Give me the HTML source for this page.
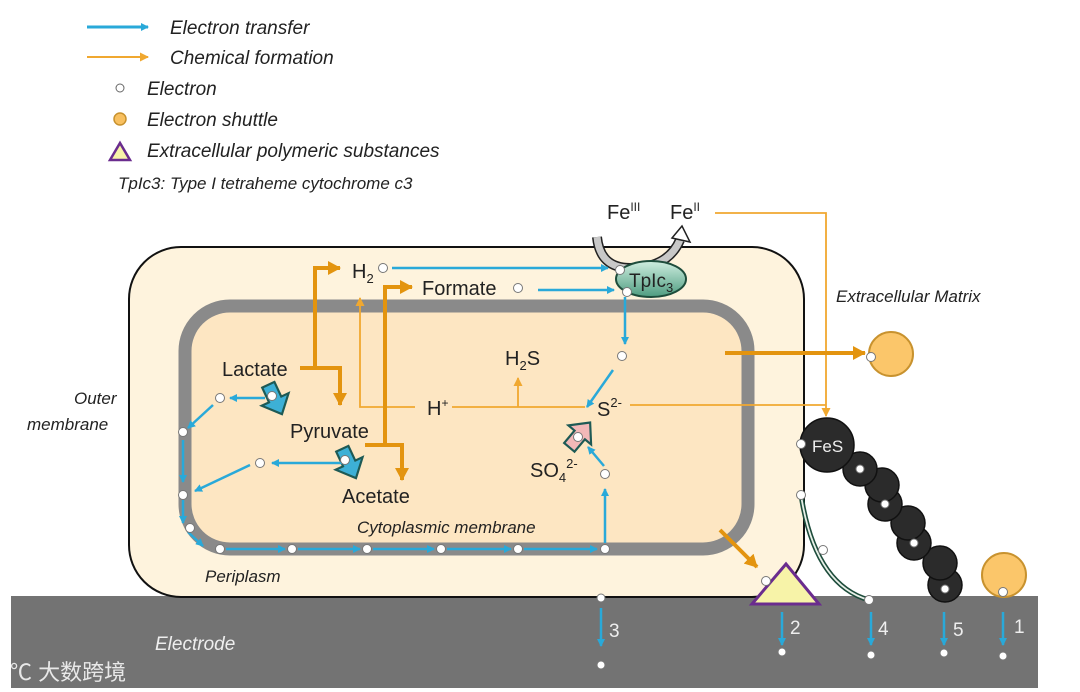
<!DOCTYPE html>
<html><head><meta charset="utf-8"><style>
html,body{margin:0;padding:0;background:#fff;width:1080px;height:692px;overflow:hidden}
svg text{font-family:"Liberation Sans","Noto Sans CJK SC",sans-serif}
.i{font-style:italic}
</style></head><body>
<svg width="1080" height="692" viewBox="0 0 1080 692" xmlns="http://www.w3.org/2000/svg">
<defs>
<marker id="b" markerWidth="8" markerHeight="8" refX="7" refY="4" orient="auto" markerUnits="userSpaceOnUse"><path d="M0,0 L8,4 L0,8z" fill="#29a9d9"/></marker>
<marker id="o" markerWidth="14" markerHeight="14" refX="12" refY="7" orient="auto" markerUnits="userSpaceOnUse"><path d="M0,0 L13,7 L0,14z" fill="#e3940f"/></marker>
<marker id="ot" markerWidth="9" markerHeight="9" refX="8" refY="4.5" orient="auto" markerUnits="userSpaceOnUse"><path d="M0,0 L9,4.5 L0,9z" fill="#f0a830"/></marker>
<linearGradient id="g" x1="0" y1="0" x2="0" y2="1"><stop offset="0" stop-color="#cfeee0"/><stop offset="1" stop-color="#4e9c80"/></linearGradient>
</defs>
<!-- legend -->
<line x1="87" y1="27" x2="148" y2="27" stroke="#29a9d9" stroke-width="3" marker-end="url(#b)"/>
<line x1="87" y1="57" x2="148" y2="57" stroke="#f0a830" stroke-width="2" marker-end="url(#ot)"/>
<circle cx="120" cy="88" r="4" fill="#fff" stroke="#666"/>
<circle cx="120" cy="119" r="6" fill="#f8c060" stroke="#c8922e" stroke-width="1.5"/>
<polygon points="110,160 120,143 130,160" fill="#f7f3a8" stroke="#6a2c8e" stroke-width="2.5"/>
<g class="i" font-size="19" fill="#222">
<text x="170" y="34">Electron transfer</text>
<text x="170" y="64">Chemical formation</text>
<text x="147" y="95">Electron</text>
<text x="147" y="126">Electron shuttle</text>
<text x="147" y="157">Extracellular polymeric substances</text>
<text x="118" y="189" font-size="17">TpIc3: Type I tetraheme cytochrome c3</text>
</g>
<!-- electrode -->
<rect x="11" y="596" width="1027" height="92" fill="#737373"/>
<text x="155" y="650" class="i" font-size="19" fill="#eee">Electrode</text>
<text x="10" y="680" font-size="22" fill="#e8e8e8">℃ 大数跨境</text>
<!-- cell -->
<rect x="129" y="247" width="675" height="350" rx="52" fill="#fef3dd" stroke="#111" stroke-width="2"/>
<rect x="185" y="306" width="563" height="243" rx="45" fill="#fde6c2" stroke="#8a8a8a" stroke-width="13"/>
<!-- chemicals text -->
<g font-size="20" fill="#222">
<text x="352" y="278">H<tspan font-size="13" dy="5">2</tspan></text>
<text x="422" y="295">Formate</text>
<text x="222" y="376">Lactate</text>
<text x="290" y="438">Pyruvate</text>
<text x="342" y="503">Acetate</text>
<text x="427" y="415">H<tspan font-size="12" dy="-8">+</tspan></text>
<text x="505" y="365">H<tspan font-size="13" dy="5">2</tspan><tspan dy="-5">S</tspan></text>
<text x="597" y="416">S<tspan font-size="13" dy="-9">2-</tspan></text>
<text x="530" y="477">SO<tspan font-size="13" dy="5">4</tspan><tspan font-size="13" dy="-14">2-</tspan></text>
<text x="607" y="219">Fe<tspan font-size="12" dy="-8">III</tspan></text>
<text x="670" y="219">Fe<tspan font-size="12" dy="-8">II</tspan></text>
</g>
<g class="i" font-size="17" fill="#222">
<text x="836" y="302">Extracellular Matrix</text>
<text x="74" y="404">Outer</text>
<text x="27" y="430">membrane</text>
<text x="357" y="533">Cytoplasmic membrane</text>
<text x="205" y="582">Periplasm</text>
</g>
<!-- thin orange -->
<g stroke="#f0a830" stroke-width="1.8" fill="none">
<polyline points="415,407 360,407 360,298" marker-end="url(#ot)"/>
<line x1="452" y1="407" x2="585" y2="407"/>
<line x1="518" y1="407" x2="518" y2="378" marker-end="url(#ot)"/>
<line x1="630" y1="405" x2="826" y2="405"/>
<polyline points="715,213 826,213 826,416" marker-end="url(#ot)"/>
</g>
<!-- thick orange -->
<g stroke="#e3940f" stroke-width="4" fill="none">
<polyline points="300,368 340,368 340,405" marker-end="url(#o)"/>
<polyline points="315,368 315,268 340,268" marker-end="url(#o)"/>
<polyline points="365,445 402,445 402,480" marker-end="url(#o)"/>
<polyline points="385,445 385,287 412,287" marker-end="url(#o)"/>
<line x1="725" y1="353" x2="865" y2="353" marker-end="url(#o)"/>
<line x1="720" y1="530" x2="757" y2="567" marker-end="url(#o)"/>
</g>
<!-- block arrows -->
<g transform="translate(274,397) rotate(-25) scale(1.35)"><path d="M-5,-10 L5,-10 L5,2 L11,2 L0,14 L-11,2 L-5,2z" fill="#3db0d6" stroke="#1e5a55" stroke-width="1.6"/></g>
<g transform="translate(348,461) rotate(-25) scale(1.35)"><path d="M-5,-10 L5,-10 L5,2 L11,2 L0,14 L-11,2 L-5,2z" fill="#3db0d6" stroke="#1e5a55" stroke-width="1.6"/></g>
<g transform="translate(578,437) rotate(-140) scale(1.35)"><path d="M-5,-10 L5,-10 L5,2 L11,2 L0,14 L-11,2 L-5,2z" fill="#f2b8b8" stroke="#1e5a55" stroke-width="1.6"/></g>
<!-- Fe U arrow -->
<path d="M597,237 Q600,268 630,268 Q668,268 680,240" fill="none" stroke="#222" stroke-width="10"/>
<path d="M597,237 Q600,268 630,268 Q668,268 680,240" fill="none" stroke="#c8c8c8" stroke-width="7"/>
<polygon points="672,238 682,226 690,242" fill="#fff" stroke="#222" stroke-width="1.5"/>
<ellipse cx="651" cy="279" rx="35" ry="18" fill="url(#g)" stroke="#1e4d3c" stroke-width="2"/>
<text x="629" y="287" font-size="19" fill="#222">TpIc<tspan font-size="13" dy="5">3</tspan></text>
<!-- blue arrows -->
<g stroke="#29a9d9" stroke-width="2.5" fill="none" marker-end="url(#b)">
<line x1="392" y1="268" x2="608" y2="268"/>
<line x1="538" y1="290" x2="614" y2="290"/>
<line x1="625" y1="297" x2="625" y2="344"/>
<line x1="613" y1="370" x2="587" y2="407"/>
<line x1="604" y1="466" x2="588" y2="447"/>
<line x1="605" y1="543" x2="605" y2="489"/>
<line x1="265" y1="398" x2="230" y2="398"/>
<line x1="213" y1="405" x2="188" y2="428"/>
<line x1="183" y1="440" x2="183" y2="482"/>
<line x1="183" y1="500" x2="183" y2="523"/>
<line x1="188" y1="532" x2="203" y2="546"/>
<line x1="250" y1="465" x2="195" y2="491"/>
<line x1="345" y1="463" x2="272" y2="463"/>
<line x1="226" y1="549" x2="285" y2="549"/>
<line x1="298" y1="549" x2="360" y2="549"/>
<line x1="373" y1="549" x2="434" y2="549"/>
<line x1="447" y1="549" x2="511" y2="549"/>
<line x1="524" y1="549" x2="597" y2="549"/>
<line x1="601" y1="608" x2="601" y2="646"/>
<line x1="782" y1="612" x2="782" y2="645"/>
<line x1="871" y1="612" x2="871" y2="645"/>
<line x1="944" y1="612" x2="944" y2="645"/>
<line x1="1003" y1="612" x2="1003" y2="645"/>
</g>
<g font-size="19" fill="#eee">
<text x="609" y="637">3</text><text x="790" y="634">2</text><text x="878" y="635">4</text><text x="953" y="636">5</text><text x="1014" y="633">1</text>
</g>
<!-- right structures -->
<circle cx="891" cy="354" r="22" fill="#fbc66a" stroke="#c8922e" stroke-width="2"/>
<circle cx="1004" cy="575" r="22" fill="#fbc66a" stroke="#c8922e" stroke-width="2"/>
<path d="M801,495 Q815,585 869,600" fill="none" stroke="#1e4d3c" stroke-width="5"/>
<path d="M801,495 Q815,585 869,600" fill="none" stroke="#e8f0e8" stroke-width="1.8"/>
<polygon points="752,604 786,564 819,604" fill="#f7f3a8" stroke="#6a2c8e" stroke-width="3"/>
<g fill="#2b2b2b" stroke="#111" stroke-width="1.5">
<circle cx="945" cy="585" r="17"/><circle cx="940" cy="563" r="17"/><circle cx="914" cy="543" r="17"/><circle cx="908" cy="523" r="17"/><circle cx="885" cy="504" r="17"/><circle cx="882" cy="485" r="17"/><circle cx="860" cy="469" r="17"/>
<circle cx="827" cy="445" r="27"/>
</g>
<text x="812" y="452" font-size="17" fill="#eee">FeS</text>
<!-- electrons -->
<g fill="#fff" stroke="#777" stroke-width="1">
<circle cx="383" cy="268" r="4.5"/><circle cx="518" cy="288" r="4.5"/><circle cx="620" cy="270" r="4.5"/><circle cx="627" cy="292" r="4.5"/><circle cx="622" cy="356" r="4.5"/><circle cx="605" cy="474" r="4.5"/><circle cx="578" cy="437" r="4.5"/>
<circle cx="220" cy="398" r="4.5"/><circle cx="272" cy="396" r="4.5"/><circle cx="260" cy="463" r="4.5"/><circle cx="345" cy="460" r="4.5"/>
<circle cx="183" cy="432" r="4.5"/><circle cx="183" cy="495" r="4.5"/><circle cx="190" cy="528" r="4.5"/>
<circle cx="220" cy="549" r="4.5"/><circle cx="292" cy="549" r="4.5"/><circle cx="367" cy="549" r="4.5"/><circle cx="441" cy="549" r="4.5"/><circle cx="518" cy="549" r="4.5"/><circle cx="605" cy="549" r="4.5"/>
<circle cx="871" cy="357" r="4.5"/><circle cx="766" cy="581" r="4.5"/><circle cx="801" cy="444" r="4.5"/><circle cx="801" cy="495" r="4.5"/><circle cx="823" cy="550" r="4.5"/><circle cx="869" cy="600" r="4.5"/><circle cx="1003" cy="592" r="4.5"/>
<circle cx="860" cy="469" r="4"/><circle cx="885" cy="504" r="4"/><circle cx="914" cy="543" r="4"/><circle cx="945" cy="589" r="4"/>
<circle cx="601" cy="598" r="4"/><circle cx="601" cy="665" r="4"/><circle cx="782" cy="652" r="4"/><circle cx="871" cy="655" r="4"/><circle cx="944" cy="653" r="4"/><circle cx="1003" cy="656" r="4"/>
</g>
</svg>
</body></html>
